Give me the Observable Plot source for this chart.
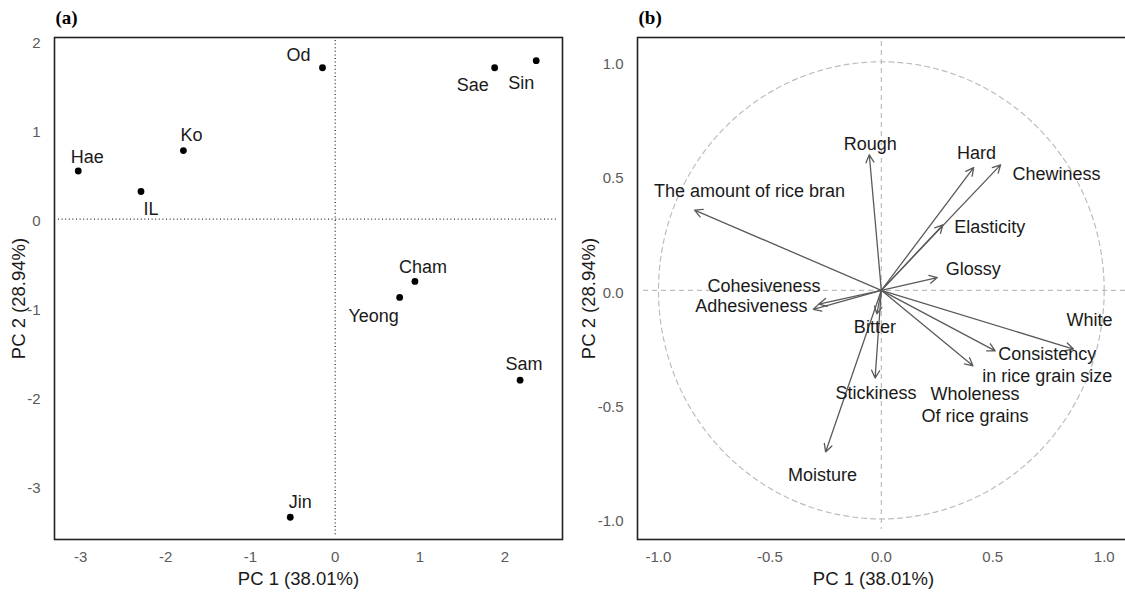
<!DOCTYPE html>
<html><head><meta charset="utf-8">
<script src="https://cdn.jsdelivr.net/npm/d3@7"></script>
<script src="https://cdn.jsdelivr.net/npm/@observablehq/plot@0.6"></script>
<style>
html,body{margin:0;padding:0;background:#fff;overflow:hidden;width:1125px;height:594px;}
#a{position:absolute;left:0;top:0;width:580px;height:594px;}
#b{position:absolute;left:580px;top:0;width:560px;height:594px;}
svg{overflow:visible;max-width:none !important;}
</style></head><body>
<div id="a"></div><div id="b"></div>
<script>
// ---------- Panel (a): PCA scores ----------
const samples   = ["Od", "Sae", "Sin", "Ko", "Hae", "IL", "Cham", "Yeong", "Sam", "Jin"];
const samplePC1 = [-0.15, 1.88, 2.37, -1.79, -3.03, -2.29, 0.94, 0.76, 2.18, -0.53];
const samplePC2 = [ 1.70, 1.70, 1.78,  0.77,  0.54,  0.31, -0.70, -0.88, -1.81, -3.35];
const ticksA = [-3, -2, -1, 0, 1, 2];

// ---------- Panel (b): loadings ----------
const attributes = ["The amount of rice bran", "Rough", "Hard", "Chewiness", "Elasticity", "Glossy",
  "Cohesiveness", "Adhesiveness", "Bitter", "Stickiness", "Moisture",
  "Consistency\nin rice grain size", "Wholeness\nOf rice grains", "White"];
const loadPC1 = [-0.838, -0.054, 0.414, 0.535, 0.276, 0.251, -0.280, -0.305, -0.020, -0.028, -0.250, 0.511, 0.411, 0.862];
const loadPC2 = [ 0.351,  0.593, 0.537, 0.549, 0.286, 0.056, -0.060, -0.083, -0.103, -0.384, -0.707, -0.265, -0.330, -0.257];
const ticksB = [-1, -0.5, 0, 0.5, 1];

const xTitle = "PC 1 (38.01%)";
const yTitle = "PC 2 (28.94%)";

// label nudges (pixels) used by the text marks
const nudgeA = {Od:[-24,-13], Sae:[-22,17], Sin:[-15,23], Ko:[8,-15], Hae:[9,-14], IL:[10,18],
  Cham:[8,-14], Yeong:[-26,19], Sam:[4,-16], Jin:[10,-15]};
const nudgeB = {"The amount of rice bran":[55,-20], Rough:[1,-12], Hard:[3,-16], Chewiness:[56,8],
  Elasticity:[47,1], Glossy:[36,-10], Cohesiveness:[-55,-19], Adhesiveness:[-62,-4], Bitter:[-2,12],
  Stickiness:[1,14], Moisture:[-3,22], "Consistency\nin rice grain size":[52,13.5],
  "Wholeness\nOf rice grains":[2,38.5], White:[16,-30]};

const SANS = "'Liberation Sans', Arial, sans-serif";
const SERIF = "'Liberation Serif', 'Times New Roman', serif";
const TXT = "#1a1a1a", TICK = "#5a5a5a";
const LABEL_SIZE = 18, TICK_SIZE = 15, TITLE_SIZE = 18.5, TAG_SIZE = 19;

const dataA = samples.map((name, i) => ({name, x: samplePC1[i], y: samplePC2[i]}));
const dataB = attributes.map((name, i) => ({name, x: loadPC1[i], y: loadPC2[i]}));

const fmtA = d => String(d);
const fmtB = d => d.toFixed(1);

const plotA = Plot.plot({
  width: 580, height: 594,
  marginLeft: 54, marginRight: 18, marginTop: 37, marginBottom: 55,
  style: {fontFamily: SANS, background: "transparent"},
  x: {domain: [-3.31, 2.68], axis: null},
  y: {domain: [-3.6, 2.04], axis: null},
  marks: [
    Plot.ruleY([0], {stroke: "#333", strokeWidth: 1.3, strokeDasharray: "1,2.6", insetLeft: 4, insetRight: 5}),
    Plot.ruleX([0], {stroke: "#333", strokeWidth: 1.3, strokeDasharray: "1,2.6", insetTop: 3, insetBottom: 4}),
    Plot.dot(dataA, {x: "x", y: "y", r: 3.4, fill: "#000", stroke: "none"}),
    ...dataA.map(d => Plot.text([d], {x: "x", y: "y", text: "name", dx: nudgeA[d.name][0], dy: nudgeA[d.name][1],
      fontSize: LABEL_SIZE, fill: TXT, fontFamily: SANS})),
    Plot.text(ticksA, {x: d => d, frameAnchor: "bottom", lineAnchor: "middle", textAnchor: "middle", dy: 17.7, text: fmtA, fontSize: TICK_SIZE, fill: TICK}),
    Plot.text(ticksA, {y: d => d, frameAnchor: "left", lineAnchor: "middle", dx: -14, dy: 2, text: fmtA, textAnchor: "end", fontSize: TICK_SIZE, fill: TICK}),
    Plot.text([xTitle], {frameAnchor: "bottom", lineAnchor: "middle", textAnchor: "middle", dx: -10, dy: 40, fontSize: TITLE_SIZE, fill: TXT}),
    Plot.text([yTitle], {frameAnchor: "left", lineAnchor: "middle", textAnchor: "middle", dx: -35, dy: 10, rotate: -90, fontSize: TITLE_SIZE, fill: TXT}),
    Plot.text(["(a)"], {frameAnchor: "top-left", lineAnchor: "middle", dx: 1, dy: -20, textAnchor: "start", fontSize: TAG_SIZE, fontWeight: "bold", fontFamily: SERIF, fill: "#000"}),
    Plot.frame({stroke: "#222", strokeWidth: 1.6})
  ]
});
document.getElementById("a").appendChild(plotA);

const circle = d3.range(0, 361, 2).map(a => ({x: Math.cos(a * Math.PI / 180), y: Math.sin(a * Math.PI / 180)}));

const plotB = Plot.plot({
  width: 560, height: 594,
  marginLeft: 57, marginRight: 14, marginTop: 37, marginBottom: 55,
  style: {fontFamily: SANS, background: "transparent"},
  x: {domain: [-1.094, 1.1], axis: null},
  y: {domain: [-1.09, 1.106], axis: null},
  marks: [
    Plot.ruleY([0], {stroke: "#bdbdbd", strokeWidth: 1.2, strokeDasharray: "5,4", insetLeft: 6}),
    Plot.ruleX([0], {stroke: "#bdbdbd", strokeWidth: 1.2, strokeDasharray: "5,4", insetTop: 4, insetBottom: 10}),
    Plot.line(circle, {x: "x", y: "y", stroke: "#bdbdbd", strokeWidth: 1.2, strokeDasharray: "5,4"}),
    Plot.arrow(dataB, {x1: () => 0, y1: () => 0, x2: "x", y2: "y", stroke: "#5a5a5a", strokeWidth: 1.3, headLength: 10, headAngle: 55}),
    ...dataB.map(d => Plot.text([d], {x: "x", y: "y", text: "name", dx: nudgeB[d.name][0], dy: nudgeB[d.name][1],
      fontSize: LABEL_SIZE, fill: TXT, fontFamily: SANS, lineHeight: 1.22})),
    Plot.text(ticksB, {x: d => d, frameAnchor: "bottom", lineAnchor: "middle", textAnchor: "middle", dy: 17.7, text: fmtB, fontSize: TICK_SIZE, fill: TICK}),
    Plot.text(ticksB, {y: d => d, frameAnchor: "left", lineAnchor: "middle", dx: -14, dy: 2.5, text: fmtB, textAnchor: "end", fontSize: TICK_SIZE, fill: TICK}),
    Plot.text([xTitle], {frameAnchor: "bottom", lineAnchor: "middle", textAnchor: "middle", dx: -8.5, dy: 40, fontSize: TITLE_SIZE, fill: TXT}),
    Plot.text([yTitle], {frameAnchor: "left", lineAnchor: "middle", textAnchor: "middle", dx: -48, dy: 10, rotate: -90, fontSize: TITLE_SIZE, fill: TXT}),
    Plot.text(["(b)"], {frameAnchor: "top-left", lineAnchor: "middle", dx: 1, dy: -20, textAnchor: "start", fontSize: TAG_SIZE, fontWeight: "bold", fontFamily: SERIF, fill: "#000"}),
    Plot.frame({stroke: "#222", strokeWidth: 1.6})
  ]
});
document.getElementById("b").appendChild(plotB);
</script>
</body></html>
